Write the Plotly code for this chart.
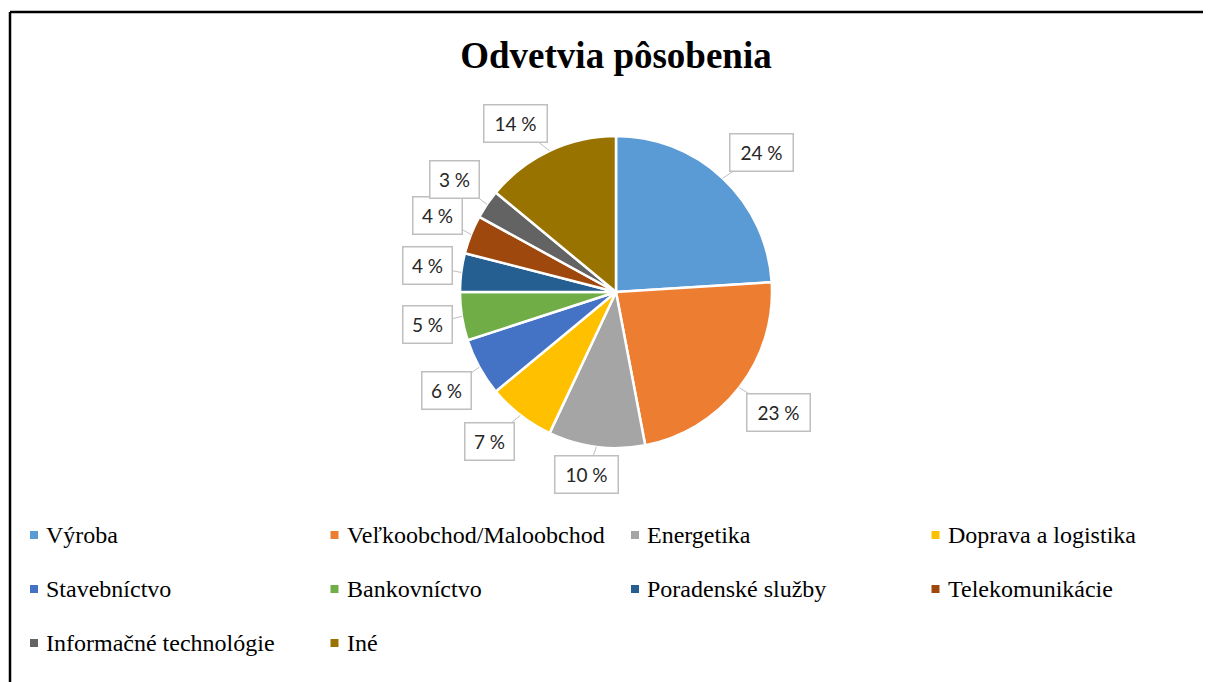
import math
import plotly.graph_objects as go

# ---- data ----
categories = ["Výroba", "Veľkoobchod/Maloobchod", "Energetika", "Doprava a logistika",
              "Stavebníctvo", "Bankovníctvo", "Poradenské služby", "Telekomunikácie",
              "Informačné technológie", "Iné"]
values = [24, 23, 10, 7, 6, 5, 4, 4, 3, 14]
colors = ["#5B9BD5", "#ED7D31", "#A5A5A5", "#FFC000", "#4472C4",
          "#70AD47", "#255E91", "#9E480E", "#636363", "#997300"]
title_text = "Odvetvia pôsobenia"

# ---- layout constants (pixels, page coords; page has 8px body margin) ----
OFF = 8
W, H = 1211 - OFF, 682 - OFF
CX, CY, R = 616 - OFF, 292 - OFF, 156
ANCHOR_R = 1.055
SERIF = "Liberation Serif"
PAD, BW, TH = 7, 1.5, 22


def clip(v):
    return max(-1.0, min(1.0, v))


fig = go.Figure(go.Pie(
    labels=categories, values=values, sort=False, direction="clockwise", rotation=0,
    marker=dict(colors=colors, line=dict(color="white", width=2.5)),
    textinfo="none", hoverinfo="label+percent", showlegend=False,
    domain=dict(x=[(CX - R) / W, (CX + R) / W], y=[(H - CY - R) / H, (H - CY + R) / H]),
))

annotations = []
shapes = []

# data labels (callouts): box corner/edge anchored on slice mid-angle
total = sum(values)
cum = 0
for v in values:
    th = (cum + v / 2) / total * 2 * math.pi
    cum += v
    s, c = math.sin(th), math.cos(th)
    px, py = CX + R * s, CY - R * c
    axp, ayp = CX + ANCHOR_R * R * s, CY - ANCHOR_R * R * c
    tw = 48 if len(str(v)) > 1 else 34
    bw, bh = tw + 2 * PAD + 2 * BW, TH + 2 * PAD + 2 * BW
    bx = axp + bw / 2 * clip(s / 0.45)
    by = ayp - bh / 2 * clip(c / 0.45)
    annotations.append(dict(
        x=px / W, y=1 - py / H, xref="paper", yref="paper",
        ax=bx - px, ay=by - py, axref="pixel", ayref="pixel",
        text=f"{v} %", showarrow=True, arrowhead=0, arrowwidth=1, arrowcolor="#BFBFBF",
        standoff=0, startstandoff=0,
        font=dict(family="Lato", size=19, color="#262626"),
        bgcolor="white", bordercolor="#BFBFBF", borderwidth=BW, borderpad=PAD,
        width=tw, height=TH, align="center",
    ))

# custom legend
for i, (cat, col) in enumerate(zip(categories, colors)):
    r, cc = divmod(i, 4)
    mx = 34 - OFF + cc * 300.5
    my = 535 - OFF + r * 54
    shapes.append(dict(type="rect", xref="paper", yref="paper",
                       x0=(mx - 4) / W, x1=(mx + 4) / W,
                       y0=1 - (my + 4) / H, y1=1 - (my - 4) / H,
                       fillcolor=col, line=dict(width=0)))
    annotations.append(dict(x=(mx + 10) / W, y=1 - my / H, xref="paper", yref="paper",
                            xanchor="left", yanchor="middle", showarrow=False, text=cat,
                            font=dict(family=SERIF, size=24, color="#000000")))

# frame lines (top and left)
shapes.append(dict(type="line", xref="paper", yref="paper",
                   x0=(10 - OFF) / W, x1=1, y0=1 - (12 - OFF) / H, y1=1 - (12 - OFF) / H,
                   line=dict(color="black", width=2.5)))
shapes.append(dict(type="line", xref="paper", yref="paper",
                   x0=(10 - OFF) / W, x1=(10 - OFF) / W, y0=0, y1=1 - (12 - OFF) / H,
                   line=dict(color="black", width=2.5)))

fig.update_layout(
    width=W, height=H, margin=dict(l=0, r=0, t=0, b=0),
    paper_bgcolor="white", plot_bgcolor="white",
    title=dict(text=f"<b>{title_text}</b>", x=(616 - OFF) / W, xanchor="center",
               y=1 - (55 - OFF) / H, yanchor="middle", yref="container",
               font=dict(family=SERIF, size=37, color="black")),
    annotations=annotations, shapes=shapes, showlegend=False,
)

fig.write_html("out.html")
